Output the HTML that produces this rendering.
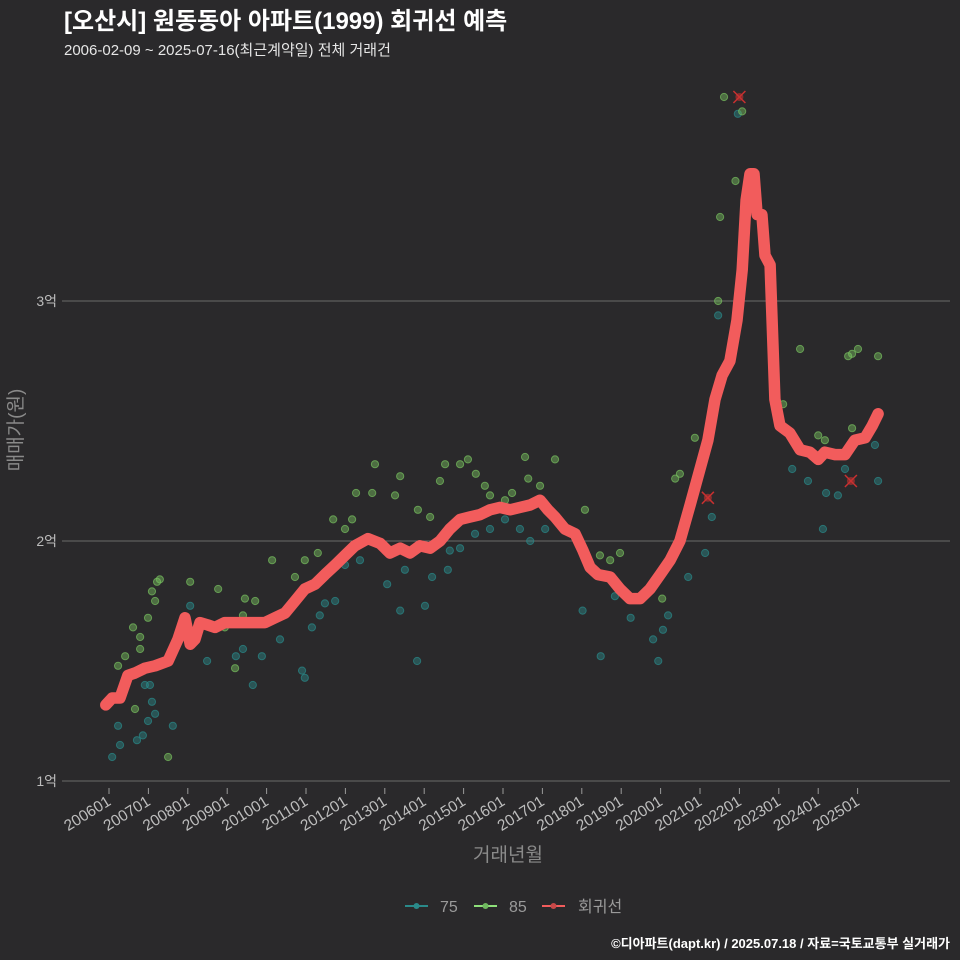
<!DOCTYPE html>
<html><head><meta charset="utf-8">
<style>
html,body{margin:0;padding:0;background:#2a292b;}
svg{display:block;font-family:"Liberation Sans","Noto Sans CJK KR",sans-serif;}
</style></head>
<body>
<svg id="chart" width="960" height="960" viewBox="0 0 960 960">
<rect width="960" height="960" fill="#2a292b"/>
<text x="64" y="29" fill="#ffffff" font-size="24" font-weight="bold">[오산시] 원동동아 아파트(1999) 회귀선 예측</text>
<text x="64" y="55" fill="#e6e6e6" font-size="15">2006-02-09 ~ 2025-07-16(최근계약일) 전체 거래건</text>
<g id="grid"></g>
<g id="pts"></g>
<g id="line"></g>
<g id="outliers"></g>
<g id="axes"></g>
<text transform="translate(22,430) rotate(-90)" text-anchor="middle" fill="#8a8a8a" font-size="19">매매가(원)</text>
<text x="508" y="861" text-anchor="middle" fill="#8a8a8a" font-size="19">거래년월</text>
<g>
 <g>
  <line x1="405" y1="906" x2="428" y2="906" stroke="#2a8a8a" stroke-width="2"/><circle cx="416.5" cy="906" r="3" fill="#2a8a8a"/>
  <text x="440" y="912" fill="#9a9a9a" font-size="16">75</text></g>
 <g>
  <line x1="474" y1="906" x2="497" y2="906" stroke="#8ee07a" stroke-width="2"/><circle cx="485.5" cy="906" r="3" fill="#6fb85f"/>
  <text x="509" y="912" fill="#9a9a9a" font-size="16">85</text></g>
 <g>
  <line x1="542" y1="906" x2="565" y2="906" stroke="#f25c5c" stroke-width="2"/><circle cx="553.5" cy="906" r="3" fill="#c84848"/>
  <text x="578" y="912" fill="#9a9a9a" font-size="16">회귀선</text></g>
</g>
<text x="950" y="948" text-anchor="end" fill="#ffffff" font-size="13" font-weight="bold">©디아파트(dapt.kr) / 2025.07.18 / 자료=국토교통부 실거래가</text>
</svg>
<script>
const yTicks=[1,2,3];
const yTickLabels=["1억","2억","3억"];
const xTickYears=[2006,2007,2008,2009,2010,2011,2012,2013,2014,2015,2016,2017,2018,2019,2020,2021,2022,2023,2024,2025];
const xTickLabels=["200601","200701","200801","200901","201001","201101","201201","201301","201401","201501","201601","201701","201801","201901","202001","202101","202201","202301","202401","202501"];
const lineX=[2005.92,2006.08,2006.28,2006.48,2006.66,2006.91,2007.17,2007.50,2007.75,2007.93,2008.06,2008.18,2008.31,2008.51,2008.69,2008.94,2009.32,2009.71,2009.96,2010.21,2010.47,2010.72,2010.97,2011.23,2011.48,2011.74,2011.99,2012.24,2012.57,2012.88,2013.13,2013.39,2013.64,2013.89,2014.15,2014.40,2014.65,2014.91,2015.16,2015.42,2015.67,2015.92,2016.18,2016.43,2016.69,2016.94,2017.14,2017.32,2017.57,2017.83,2018.03,2018.21,2018.41,2018.72,2018.97,2019.22,2019.48,2019.73,2019.99,2020.24,2020.49,2020.75,2021.00,2021.20,2021.38,2021.56,2021.76,2021.94,2022.07,2022.17,2022.27,2022.37,2022.45,2022.57,2022.65,2022.78,2022.90,2023.03,2023.28,2023.54,2023.79,2024.00,2024.17,2024.43,2024.68,2024.93,2025.19,2025.37,2025.52];
const lineY=[1.317,1.346,1.346,1.44,1.45,1.47,1.48,1.50,1.59,1.68,1.57,1.59,1.66,1.65,1.64,1.66,1.66,1.66,1.66,1.68,1.70,1.75,1.80,1.82,1.86,1.90,1.94,1.98,2.01,1.99,1.95,1.97,1.95,1.98,1.97,2.00,2.05,2.09,2.10,2.11,2.13,2.14,2.13,2.14,2.15,2.17,2.13,2.10,2.05,2.03,1.96,1.89,1.86,1.85,1.80,1.76,1.76,1.80,1.86,1.92,2.00,2.15,2.30,2.42,2.59,2.69,2.75,2.92,3.13,3.42,3.53,3.53,3.36,3.36,3.19,3.15,2.59,2.48,2.45,2.38,2.37,2.34,2.37,2.36,2.36,2.42,2.43,2.48,2.53];
const s85X=[2006.23,2006.41,2006.61,2006.79,2006.99,2007.17,2007.22,2007.29,2007.09,2006.79,2006.66,2007.50,2008.06,2008.77,2008.94,2009.45,2009.71,2009.40,2009.20,2010.14,2010.72,2010.97,2011.30,2011.69,2011.99,2012.17,2012.27,2012.68,2012.75,2013.26,2013.39,2013.84,2014.15,2014.40,2014.53,2014.91,2015.11,2015.31,2015.54,2015.67,2016.05,2016.23,2016.56,2016.64,2016.94,2017.32,2018.08,2018.72,2018.97,2020.04,2020.37,2020.49,2020.87,2021.30,2021.46,2021.51,2021.61,2022.07,2021.90,2023.11,2023.54,2024.00,2024.17,2024.76,2024.86,2025.01,2024.86,2025.52,2018.46];
const s85Y=[1.48,1.52,1.64,1.60,1.68,1.75,1.83,1.84,1.79,1.55,1.30,1.10,1.83,1.80,1.64,1.76,1.75,1.69,1.47,1.92,1.85,1.92,1.95,2.09,2.05,2.09,2.20,2.20,2.32,2.19,2.27,2.13,2.10,2.25,2.32,2.32,2.34,2.28,2.23,2.19,2.17,2.20,2.35,2.26,2.23,2.34,2.13,1.92,1.95,1.76,2.26,2.28,2.43,2.50,3.00,3.35,3.85,3.79,3.50,2.57,2.80,2.44,2.42,2.77,2.78,2.80,2.47,2.77,1.94];
const s75X=[2006.08,2006.23,2006.28,2006.71,2006.86,2006.91,2007.04,2007.09,2007.17,2006.99,2007.62,2008.49,2009.22,2009.40,2009.65,2009.88,2010.34,2010.90,2010.97,2011.15,2011.35,2011.48,2011.74,2011.99,2012.37,2013.06,2013.39,2013.51,2013.82,2014.02,2014.20,2014.60,2014.91,2015.29,2015.67,2016.05,2016.43,2016.69,2017.07,2018.02,2018.48,2018.84,2019.24,2019.81,2019.94,2020.06,2020.19,2020.70,2021.13,2021.30,2021.46,2021.96,2023.34,2023.74,2024.12,2024.20,2024.50,2024.68,2025.44,2025.52,2008.06,2014.65];
const s75Y=[1.10,1.23,1.15,1.17,1.19,1.40,1.40,1.33,1.28,1.25,1.23,1.50,1.52,1.55,1.40,1.52,1.59,1.46,1.43,1.64,1.69,1.74,1.75,1.90,1.92,1.82,1.71,1.88,1.50,1.73,1.85,1.88,1.97,2.03,2.05,2.09,2.05,2.00,2.05,1.71,1.52,1.77,1.68,1.59,1.50,1.63,1.69,1.85,1.95,2.10,2.94,3.78,2.30,2.25,2.05,2.20,2.19,2.30,2.40,2.25,1.73,1.96];
const outX=[2021.20,2022.00,2024.83];
const outY=[2.18,3.85,2.25];

const NS="http://www.w3.org/2000/svg";
const PL=62,PR=950;
function xs(v){return 109+(v-2006)*39.4;}
function ys(v){return 781-(v-1)*240;}
function mk(tag,attrs,parent){const e=document.createElementNS(NS,tag);for(const k in attrs)e.setAttribute(k,attrs[k]);parent.appendChild(e);return e;}
const grid=document.getElementById('grid'),axes=document.getElementById('axes');
yTicks.forEach((t,i)=>{
  const l=mk('line',{x1:PL,x2:PR,y1:ys(t),y2:ys(t),stroke:'#6a6a6a','stroke-width':1},grid);
  
  
  const tx=mk('text',{x:57,y:ys(t)+5,'text-anchor':'end',fill:'#bdbdbd','font-size':14},axes);
  tx.textContent=yTickLabels[i];
  
  
});
xTickYears.forEach((t,i)=>{
  const x=xs(t);
  const tk=mk('line',{x1:x,x2:x,y1:788,y2:794,stroke:'#9a9a9a','stroke-width':1},axes);
  
  
  const tx=mk('text',{transform:`translate(${x+3},${804}) rotate(-32)`,'text-anchor':'end',fill:'#bdbdbd','font-size':15.5},axes);
  tx.textContent=xTickLabels[i];
  
  
});
const pts=document.getElementById('pts');
s75X.forEach((x,i)=>{
  const c=mk('circle',{cx:xs(x),cy:ys(s75Y[i]),r:3.6,fill:'#2a8a8a','fill-opacity':0.45,stroke:'#2a8a8a','stroke-opacity':0.7},pts);
  
  
});
s85X.forEach((x,i)=>{
  const c=mk('circle',{cx:xs(x),cy:ys(s85Y[i]),r:3.6,fill:'#78c060','fill-opacity':0.45,stroke:'#78c060','stroke-opacity':0.7},pts);
  
  
});
const d=lineX.map((x,i)=>(i?'L':'M')+xs(x).toFixed(1)+','+ys(lineY[i]).toFixed(1)).join(' ');
const p=mk('path',{d:d,fill:'none',stroke:'#f25c5c','stroke-width':11.5,'stroke-linejoin':'round','stroke-linecap':'round'},document.getElementById('line'));


const og=document.getElementById('outliers');
outX.forEach((x,i)=>{
  const cx=xs(x),cy=ys(outY[i]);
  const g=mk('g',{},og);
  
  
  mk('circle',{cx:cx,cy:cy,r:4,fill:'#b03030','fill-opacity':0.7},g);
  mk('path',{d:`M${cx-6},${cy-6}L${cx+6},${cy+6}M${cx-6},${cy+6}L${cx+6},${cy-6}`,stroke:'#c83030','stroke-width':1.5},g);
});
</script>
</body></html>
